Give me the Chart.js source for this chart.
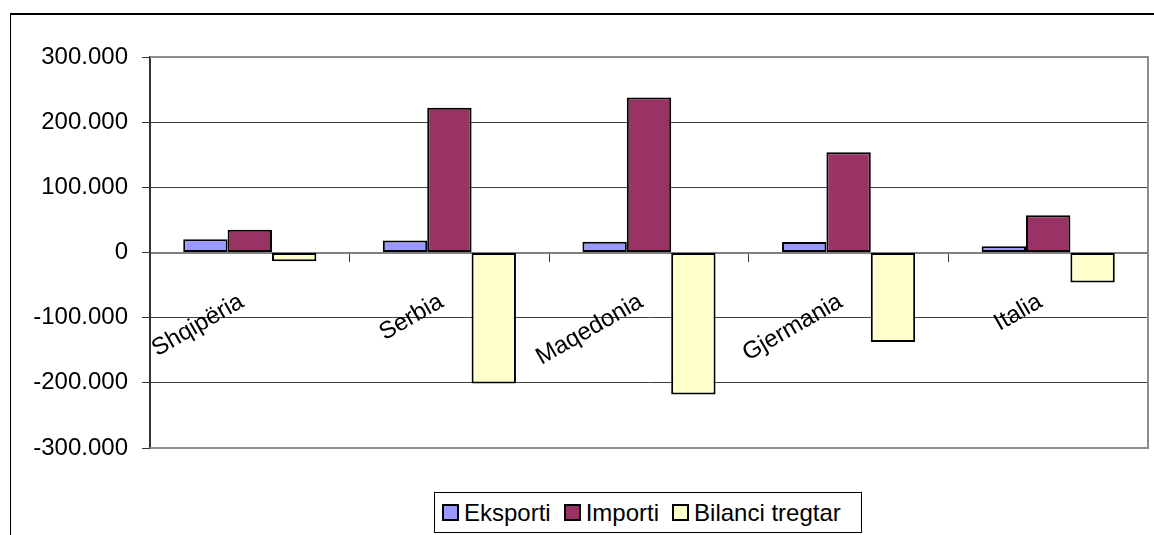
<!DOCTYPE html>
<html>
<head>
<meta charset="utf-8">
<script src="https://cdn.jsdelivr.net/npm/chart.js@4"></script>
<style>
  html, body { margin: 0; padding: 0; background: #fff; }
  body { width: 1154px; height: 535px; position: relative; overflow: hidden; font-family: "Liberation Sans", Arial, sans-serif; }
  #frame { position: absolute; left: 10px; top: 13px; width: 1300px; height: 700px; border-left: 1px solid #000; border-top: 2px solid #000; box-sizing: border-box; }
  #c { position: absolute; left: 0; top: 0; }
  #legend { position: absolute; left: 434px; top: 492px; width: 428px; height: 41px; border: 1px solid #000; box-sizing: border-box; background: #fff; display: flex; align-items: center; padding-left: 7px; font-size: 24px; line-height: 24px; color: #000; white-space: nowrap; }
  .item { display: flex; align-items: center; margin-right: 13px; }
  .sw { width: 17px; height: 17px; border: 2px solid #000; box-sizing: border-box; margin-right: 5px; }
</style>
</head>
<body>
<div id="frame"></div>
<canvas id="c" width="1154" height="535"></canvas>
<div id="legend"></div>
<script>
const categories = ['Shqipëria', 'Serbia', 'Maqedonia', 'Gjermania', 'Italia'];
const seriesNames = ['Eksporti', 'Importi', 'Bilanci tregtar'];
const eksporti = [20500, 18500, 16500, 16000, 9500];
const importi = [35000, 222000, 238000, 154000, 57000];
const bilanci = [-13500, -201000, -218000, -137500, -46000];
const seriesColors = ['#9999FF', '#993366', '#FFFFCC'];
const yTickValues = [-300000, -200000, -100000, 0, 100000, 200000, 300000];

function fmt(v) {
  const s = String(Math.abs(Math.round(v))).replace(/\B(?=(\d{3})+(?!\d))/g, '.');
  return (v < 0 ? '-' : '') + s;
}

const FONT = '"Liberation Sans", Arial, sans-serif';

const framePlugin = {
  id: 'plotFrame',
  afterDraw(chart) {
    const a = chart.chartArea, ctx = chart.ctx;
    ctx.save();
    ctx.strokeStyle = '#8c8c8c';
    ctx.lineWidth = 2;
    ctx.beginPath();
    ctx.moveTo(a.left, a.top);
    ctx.lineTo(a.right, a.top);
    ctx.lineTo(a.right, a.bottom);
    ctx.lineTo(a.left, a.bottom);
    ctx.stroke();
    ctx.restore();
  }
};

const allSeries = [eksporti, importi, bilanci];
const chart = new Chart(document.getElementById('c'), {
  type: 'bar',
  data: {
    labels: categories,
    datasets: allSeries.map((d, i) => ({
      label: seriesNames[i],
      data: d,
      backgroundColor: seriesColors[i],
      borderColor: '#000',
      borderWidth: 2,
      borderSkipped: false,
      categoryPercentage: 0.667,
      barPercentage: 1.0
    }))
  },
  options: {
    responsive: false,
    animation: false,
    devicePixelRatio: 1,
    layout: { padding: { left: 0, top: 57, right: 6, bottom: 87 } },
    plugins: { legend: { display: false }, tooltip: { enabled: false } },
    scales: {
      x: {
        position: { y: 0 },
        offset: true,
        grid: { display: true, drawOnChartArea: false, drawTicks: true, tickLength: 8, offset: true, color: '#333', lineWidth: 1 },
        border: { display: true, color: '#808080', width: 2 },
        ticks: {
          autoSkip: false, maxRotation: 30, minRotation: 30, padding: 27, labelOffset: -8,
          color: '#000', font: { family: FONT, size: 24 }
        }
      },
      y: {
        min: -300000, max: 300000,
        afterFit(scale) { scale.width = 150; },
        afterBuildTicks(scale) { scale.ticks = yTickValues.map(v => ({ value: v })); },
        grid: { color: '#404040', lineWidth: 1, drawTicks: true, tickLength: 8, tickColor: '#333' },
        border: { display: true, color: '#333', width: 2 },
        ticks: {
          padding: 14, color: '#000', font: { family: FONT, size: 24 },
          callback: (v) => fmt(v)
        }
      }
    }
  },
  plugins: [framePlugin]
});

const lg = document.getElementById('legend');
seriesNames.forEach((n, i) => {
  const it = document.createElement('div');
  it.className = 'item';
  const sw = document.createElement('div');
  sw.className = 'sw';
  sw.style.background = seriesColors[i];
  const t = document.createElement('span');
  t.textContent = n;
  it.appendChild(sw); it.appendChild(t);
  lg.appendChild(it);
});
</script>
</body>
</html>
